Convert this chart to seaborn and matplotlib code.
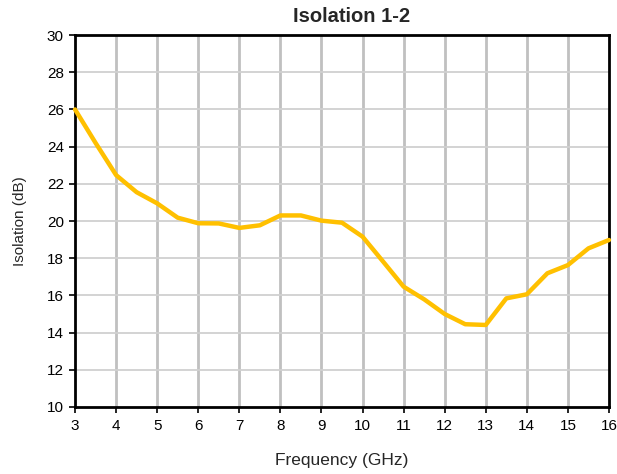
import matplotlib
matplotlib.use("Agg")
import matplotlib.pyplot as plt
import seaborn as sns
import pandas as pd

freq_ghz = [3, 3.5, 4, 4.5, 5, 5.5, 6, 6.5, 7, 7.5, 8, 8.5, 9, 9.5, 10, 10.5,
            11, 11.5, 12, 12.5, 13, 13.5, 14, 14.5, 15, 15.5, 16]
isolation_db = [26.0, 24.2, 22.47, 21.55, 20.95, 20.18, 19.88, 19.87, 19.63, 19.77,
                20.3, 20.3, 20.02, 19.91, 19.16, 17.82, 16.47, 15.79, 15.0, 14.45,
                14.41, 15.84, 16.06, 17.19, 17.63, 18.53, 18.98]
x_ticks = list(range(3, 17))
y_ticks = list(range(10, 31, 2))

sns.set_theme(style="white")
plt.rcParams["font.family"] = ["Liberation Sans", "DejaVu Sans"]

df = pd.DataFrame({"Frequency": freq_ghz, "Isolation": isolation_db})

fig = plt.figure(figsize=(6.17, 4.74), dpi=100)
ax = fig.add_axes([0.1216, 0.1414, 0.8654, 0.7846])

sns.lineplot(data=df, x="Frequency", y="Isolation", ax=ax, color="#FFC000",
             linewidth=3.2, zorder=3, clip_on=False)

ax.set_xlim(3, 16)
ax.set_ylim(10, 30)
ax.set_xticks(x_ticks)
ax.set_yticks(y_ticks)
ax.set_xticklabels([str(t) for t in x_ticks], fontsize=11)
ax.set_yticklabels([str(t) for t in y_ticks], fontsize=11)

for x in x_ticks[1:-1]:
    ax.axvline(x, color="#c0c0c0", linewidth=2.0, zorder=1)
for y in y_ticks[1:-1]:
    ax.axhline(y, color="#d0d0d0", linewidth=1.3, zorder=1)

for s in ax.spines.values():
    s.set_color("black")
    s.set_linewidth(2.0)
    s.set_visible(True)

ax.tick_params(axis="both", direction="out", length=4, width=1.2, color="black",
               labelcolor="black", left=True, bottom=True)
ax.tick_params(axis="x", pad=5)
ax.tick_params(axis="y", pad=4)

fig.text(352 / 617, 1 - 16 / 474, "Isolation 1-2", fontsize=14.5, fontweight="bold",
         ha="center", va="center")
ax.set_xlabel("Frequency (GHz)", fontsize=12.5, labelpad=14)
ax.set_ylabel("Isolation (dB)", fontsize=11, labelpad=14)

fig.savefig("out.png", dpi=100)
